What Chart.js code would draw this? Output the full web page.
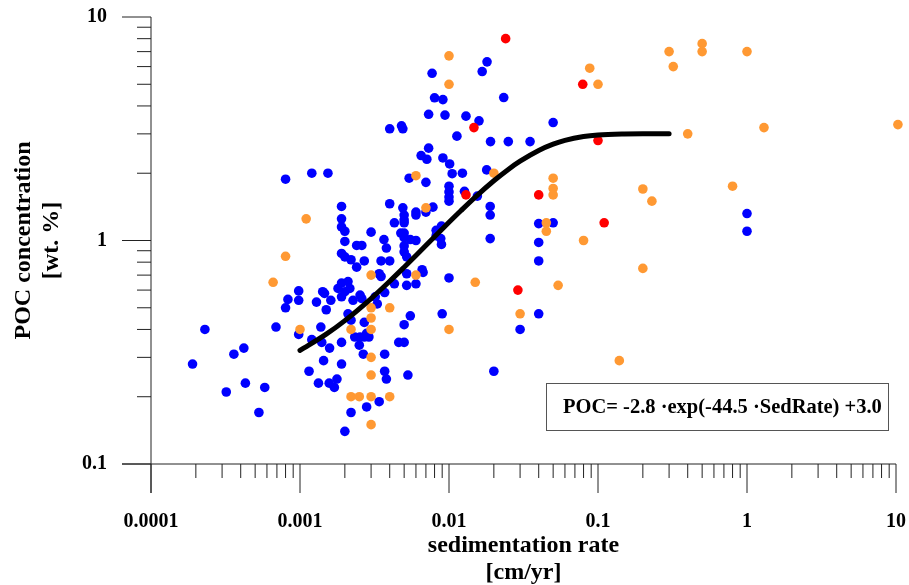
<!DOCTYPE html>
<html>
<head>
<meta charset="utf-8">
<script src="https://cdn.jsdelivr.net/npm/chart.js@4/dist/chart.umd.min.js"></script>
<style>
  html, body { margin: 0; padding: 0; background: #fff; }
  #wrap { width: 909px; height: 585px; position: relative; }
</style>
</head>
<body>
<div id="wrap"><canvas id="chart"></canvas></div>
<script>
// --- DATA ---
const xTickValues = [0.0001, 0.001, 0.01, 0.1, 1, 10];
const xTickLabels = ['0.0001', '0.001', '0.01', '0.1', '1', '10'];
const yTickValues = [0.1, 1, 10];
const yTickLabels = ['0.1', '1', '10'];
const minorSteps = [2, 3, 4, 5, 6, 7, 8, 9];

const blueX = [0.00019, 0.00023, 0.00036, 0.00042, 0.00032, 0.00043, 0.00058, 0.00053, 0.00069, 0.00083,
  0.0008, 0.00098, 0.00098, 0.00098, 0.0008, 0.0012, 0.00154, 0.0019, 0.0019, 0.0019,
  0.002, 0.002, 0.0024, 0.0026, 0.003, 0.00366, 0.0038, 0.004, 0.0043, 0.00475,
  0.005, 0.0049, 0.005, 0.005, 0.005, 0.0055, 0.006, 0.0054, 0.007, 0.0078,
  0.007, 0.006, 0.006, 0.004, 0.0048, 0.0049, 0.0073, 0.0094, 0.008, 0.0091,
  0.0077, 0.013, 0.0159, 0.0113, 0.0073, 0.0065, 0.0071, 0.0091, 0.0101, 0.0105,
  0.0123, 0.0179, 0.01, 0.01, 0.01, 0.01, 0.0127, 0.0155, 0.0189, 0.0189,
  0.0189, 0.018, 0.0167, 0.0233, 0.0082, 0.0089, 0.0088, 0.0089, 0.019, 0.025,
  0.035, 0.05, 0.04, 0.05, 0.04, 0.04, 1.0, 1.0, 0.005, 0.005,
  0.0052, 0.0066, 0.0082, 0.0022, 0.0024, 0.0027, 0.0035, 0.004, 0.0019, 0.002,
  0.005, 0.00115, 0.00133, 0.00144, 0.00138, 0.0012, 0.0014, 0.00158, 0.00129, 0.00142,
  0.00146, 0.00161, 0.0015, 0.00157, 0.0017, 0.00177, 0.0019, 0.0019, 0.0018, 0.0019,
  0.0021, 0.00216, 0.002, 0.0019, 0.00227, 0.0021, 0.0022, 0.00253, 0.0026, 0.0027,
  0.00233, 0.00253, 0.0027, 0.0029, 0.0028, 0.0025, 0.00266, 0.0028, 0.0022, 0.0034,
  0.002, 0.0037, 0.0037, 0.0038, 0.0033, 0.0034, 0.0035, 0.0037, 0.0032, 0.0043,
  0.0052, 0.005, 0.0046, 0.005, 0.0053, 0.0055, 0.0052, 0.0067, 0.006, 0.01,
  0.009, 0.04, 0.03, 0.02];
const blueY = [0.28, 0.40, 0.31, 0.33, 0.21, 0.23, 0.22, 0.17, 0.41, 0.545,
  0.50, 0.595, 0.54, 0.38, 1.88, 2.0, 2.0, 1.42, 1.25, 1.15,
  1.1, 0.99, 0.95, 0.95, 1.09, 1.01, 0.925, 1.46, 1.2, 1.08,
  1.08, 1.4, 1.3, 1.2, 0.945, 1.01, 1.0, 1.9, 1.82, 1.41,
  1.34, 1.34, 1.3, 3.16, 3.26, 3.16, 3.67, 3.64, 4.35, 4.27,
  5.6, 3.6, 3.43, 2.93, 2.59, 2.4, 2.31, 2.34, 2.2, 1.99,
  2.0, 2.07, 1.75, 1.65, 1.565, 1.5, 1.66, 1.58, 1.42, 1.3,
  1.02, 6.3, 5.7, 4.36, 1.11, 1.16, 1.02, 0.96, 2.77, 2.77,
  2.77, 3.37, 1.19, 1.2, 0.98, 0.81, 1.32, 1.1, 1.03, 0.89,
  0.845, 0.74, 1.05, 0.82, 0.76, 0.81, 0.81, 0.81, 0.875, 0.845,
  1.235, 0.26, 0.23, 0.29, 0.41, 0.36, 0.35, 0.33, 0.53, 0.59,
  0.58, 0.54, 0.49, 0.23, 0.22, 0.24, 0.28, 0.35, 0.61, 0.645,
  0.655, 0.61, 0.59, 0.56, 0.54, 0.47, 0.44, 0.57, 0.55, 0.43,
  0.37, 0.37, 0.37, 0.37, 0.384, 0.34, 0.31, 0.18, 0.17, 0.19,
  0.14, 0.31, 0.26, 0.24, 0.52, 0.71, 0.69, 0.585, 0.56, 0.64,
  0.63, 0.42, 0.35, 0.35, 0.25, 0.46, 0.71, 0.72, 0.64, 0.68,
  0.47, 0.47, 0.40, 0.26];

const orangeX = [0.0008, 0.00066, 0.001, 0.0011, 0.006, 0.007, 0.01, 0.01, 0.02, 0.05,
  0.05, 0.05, 0.045, 0.045, 0.08, 0.088, 0.1, 0.3, 0.5, 0.5,
  0.32, 1.0, 0.4, 1.3, 10.3, 0.8, 0.2, 0.23, 0.2, 0.054,
  0.139, 0.006, 0.015, 0.03, 0.01, 0.003, 0.003, 0.003, 0.003, 0.003,
  0.0022, 0.0025, 0.003, 0.004, 0.003, 0.004, 0.003, 0.0022];
const orangeY = [0.85, 0.65, 0.40, 1.25, 1.95, 1.4, 6.7, 5.0, 2.0, 1.9,
  1.71, 1.6, 1.2, 1.1, 1.0, 5.9, 5.0, 7.0, 7.6, 7.0,
  6.0, 7.0, 3.0, 3.2, 3.3, 1.75, 1.7, 1.5, 0.75, 0.63,
  0.29, 0.70, 0.65, 0.47, 0.40, 0.50, 0.45, 0.40, 0.30, 0.25,
  0.20, 0.20, 0.20, 0.20, 0.15, 0.50, 0.70, 0.40];

const redX = [0.024, 0.079, 0.0147, 0.013, 0.1, 0.04, 0.11, 0.029];
const redY = [8.0, 5.0, 3.2, 1.6, 2.8, 1.6, 1.2, 0.60];

// fitted curve POC = -2.8 exp(-44.5 SedRate) + 3.0
const fitX = [0.001, 0.0015, 0.002, 0.003, 0.004, 0.005, 0.006, 0.008, 0.01, 0.012, 0.015,
  0.02, 0.025, 0.03, 0.04, 0.05, 0.06, 0.08, 0.1, 0.15, 0.2, 0.3];
const fitY = [0.322, 0.381, 0.438, 0.550, 0.657, 0.759, 0.856, 1.039, 1.206, 1.358, 1.564,
  1.850, 2.080, 2.263, 2.528, 2.697, 2.806, 2.920, 2.967, 2.996, 3.0, 3.0];

const equationText = 'POC= -2.8 \u00B7exp(-44.5 \u00B7SedRate) +3.0';

const serif = "'Times New Roman', 'Liberation Serif', serif";

function toPoints(xs, ys) {
  return xs.map((x, i) => ({ x: x, y: ys[i] }));
}

// --- AXIS LINES + TICKS (drawn with the chart's own scales) ---
const axisPlugin = {
  id: 'axisPlugin',
  beforeDatasetsDraw(chart) {
    const { ctx, chartArea, scales } = chart;
    const xs = scales.x, ys = scales.y;
    const majorLen = 29, minorLen = 14;
    ctx.save();
    ctx.strokeStyle = '#222';
    ctx.lineWidth = 1;
    ctx.beginPath();
    // y axis line runs down past the x axis
    ctx.moveTo(chartArea.left, chartArea.top);
    ctx.lineTo(chartArea.left, chartArea.bottom + majorLen);
    // x axis line runs left past the y axis
    ctx.moveTo(chartArea.left - majorLen, chartArea.bottom);
    ctx.lineTo(chartArea.right, chartArea.bottom);

    xTickValues.forEach((v, i) => {
      const px = xs.getPixelForValue(v);
      ctx.moveTo(px, chartArea.bottom);
      ctx.lineTo(px, chartArea.bottom + majorLen);
      if (i < xTickValues.length - 1) {
        minorSteps.forEach(m => {
          const mx = xs.getPixelForValue(v * m);
          ctx.moveTo(mx, chartArea.bottom);
          ctx.lineTo(mx, chartArea.bottom + minorLen);
        });
      }
    });

    yTickValues.forEach((v, i) => {
      const py = ys.getPixelForValue(v);
      ctx.moveTo(chartArea.left - majorLen, py);
      ctx.lineTo(chartArea.left, py);
      if (i < yTickValues.length - 1) {
        minorSteps.forEach(m => {
          const my = ys.getPixelForValue(v * m);
          ctx.moveTo(chartArea.left - minorLen, my);
          ctx.lineTo(chartArea.left, my);
        });
      }
    });
    ctx.stroke();
    ctx.restore();
  },
  afterDraw(chart) {
    // equation box
    const { ctx } = chart;
    ctx.save();
    ctx.strokeStyle = '#555';
    ctx.lineWidth = 1;
    ctx.strokeRect(546.5, 383.5, 342, 47);
    ctx.fillStyle = '#000';
    ctx.font = 'bold 20.5px ' + serif;
    ctx.textBaseline = 'alphabetic';
    ctx.textAlign = 'left';
    ctx.fillText(equationText, 563, 413);
    ctx.restore();
  }
};

// invisible tick marks are used only to push the labels away from the axis
const hiddenTicks = (len) => ({
  display: true,
  drawOnChartArea: false,
  drawTicks: true,
  tickLength: len,
  tickColor: 'rgba(0,0,0,0)',
  color: 'rgba(0,0,0,0)'
});

const ctx = document.getElementById('chart').getContext('2d');
new Chart(ctx, {
  type: 'scatter',
  data: {
    datasets: [
      {
        type: 'line',
        data: toPoints(fitX, fitY),
        borderColor: '#000',
        borderWidth: 5,
        borderCapStyle: 'round',
        cubicInterpolationMode: 'monotone',
        pointRadius: 0,
        fill: false,
        clip: false
      },
      {
        data: toPoints(redX, redY),
        backgroundColor: '#FF0000',
        pointRadius: 4.8,
        pointBorderWidth: 0,
        clip: false
      },
      {
        data: toPoints(orangeX, orangeY),
        backgroundColor: '#FF9933',
        pointRadius: 4.8,
        pointBorderWidth: 0,
        clip: false
      },
      {
        data: toPoints(blueX, blueY),
        backgroundColor: '#0000FF',
        pointRadius: 4.8,
        pointBorderWidth: 0,
        clip: false
      }
    ]
  },
  options: {
    responsive: true,
    maintainAspectRatio: false,
    animation: false,
    layout: { padding: { top: 17, right: 13, left: 0, bottom: 0 } },
    plugins: {
      legend: { display: false },
      tooltip: { enabled: false }
    },
    scales: {
      x: {
        type: 'logarithmic',
        position: 'bottom',
        min: 0.0001,
        max: 10,
        grid: hiddenTicks(46),
        border: { display: false },
        afterBuildTicks: (scale) => {
          scale.ticks = xTickValues.map(v => ({ value: v, major: true }));
        },
        afterFit: (scale) => { scale.height = 121; },
        ticks: {
          autoSkip: false,
          maxRotation: 0,
          padding: 0,
          color: '#000',
          font: { family: serif, size: 20, weight: 'bold' },
          callback: (value, index) => xTickLabels[index]
        },
        title: {
          display: true,
          text: ['sedimentation rate', '[cm/yr]'],
          color: '#000',
          font: { family: serif, size: 24, weight: 'bold', lineHeight: '27px' },
          padding: { top: 0, bottom: -1 }
        }
      },
      y: {
        type: 'logarithmic',
        position: 'left',
        min: 0.1,
        max: 10,
        grid: hiddenTicks(44),
        border: { display: false },
        afterBuildTicks: (scale) => {
          scale.ticks = yTickValues.map(v => ({ value: v, major: true }));
        },
        afterFit: (scale) => { scale.width = 151; },
        ticks: {
          autoSkip: false,
          padding: 0,
          color: '#000',
          font: { family: serif, size: 20, weight: 'bold' },
          callback: (value, index) => yTickLabels[index]
        },
        title: {
          display: true,
          text: ['POC concentration', '[wt. %]'],
          color: '#000',
          font: { family: serif, size: 24, weight: 'bold', lineHeight: '28px' },
          padding: { top: 10, bottom: 0 }
        }
      }
    }
  },
  plugins: [axisPlugin]
});
</script>
</body>
</html>
